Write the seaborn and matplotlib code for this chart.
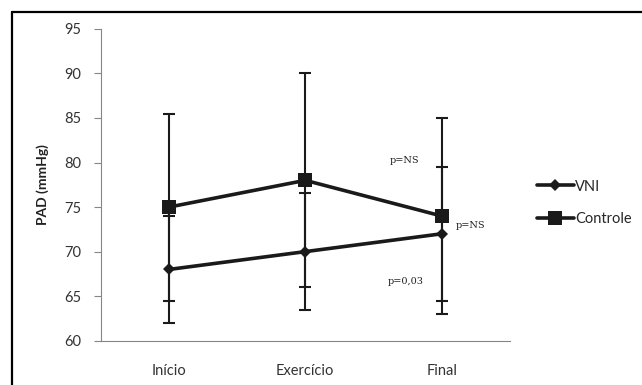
import matplotlib
matplotlib.use("Agg")
import matplotlib.pyplot as plt
import seaborn as sns
import pandas as pd
from matplotlib.lines import Line2D

categories = ["Início", "Exercício", "Final"]
vni_mean = [68, 70, 72]
vni_sd = [6, 6.6, 7.5]
ctrl_mean = [75, 78, 74]
ctrl_sd = [10.5, 12, 11]
series_names = ["VNI", "Controle"]
yticks = [60, 65, 70, 75, 80, 85, 90, 95]
annotations = [("p=NS", 1.73, 80.2), ("p=NS", 2.21, 72.9), ("p=0,03", 1.74, 66.6)]

sns.set_style("white")
plt.rcParams["font.family"] = ["Lato", "DejaVu Sans"]

df = pd.DataFrame({
    "momento": categories * 2,
    "valor": vni_mean + ctrl_mean,
    "grupo": [series_names[0]] * 3 + [series_names[1]] * 3,
})

fig = plt.figure(figsize=(6.42, 3.85), dpi=100)
ax = fig.add_axes([0.157, 0.115, 0.637, 0.81])

dark = "#1a1a1a"
xpos = list(range(len(categories)))
ax.errorbar(xpos, ctrl_mean, yerr=ctrl_sd, fmt="none", ecolor=dark,
            elinewidth=1.5, capsize=4.5, capthick=1.5, zorder=2)
ax.errorbar(xpos, vni_mean, yerr=vni_sd, fmt="none", ecolor=dark,
            elinewidth=1.5, capsize=4.5, capthick=1.5, zorder=2)

sns.lineplot(data=df, x="momento", y="valor", hue="grupo", style="grupo",
             markers={"VNI": "D", "Controle": "s"}, dashes=False,
             palette={"VNI": dark, "Controle": dark},
             markersize=7, linewidth=2.6, markeredgewidth=0, ax=ax, zorder=3,
             legend=False)
for line in ax.get_lines():
    if line.get_marker() == "s":
        line.set_markersize(10)
    elif line.get_marker() == "D":
        line.set_markersize(6.5)

ax.set_xlim(-0.5, 2.5)
ax.set_ylim(60, 95)
ax.set_yticks(yticks)
ax.set_xticks(xpos)
ax.set_xticklabels(categories)
ax.set_xticks([-0.5, 0.5, 1.5, 2.5], minor=True)
ax.tick_params(axis="x", which="major", length=0, pad=17, labelsize=10.5, labelcolor="#333333")
ax.tick_params(axis="x", which="minor", length=5, width=0.8, color="#868686", direction="out")
ax.tick_params(axis="y", length=5, width=0.8, color="#868686", direction="out",
               pad=9, labelsize=10.5, labelcolor="#333333", left=True)
for s in ["top", "right"]:
    ax.spines[s].set_visible(False)
for s in ["left", "bottom"]:
    ax.spines[s].set_color("#868686")
    ax.spines[s].set_linewidth(0.8)
ax.set_xlabel("")
ax.set_ylabel("PAD (mmHg)", fontsize=10, fontweight="bold", color="#222222", labelpad=11)

for txt, x, y in annotations:
    ax.text(x, y, txt, ha="center", va="center", fontsize=7,
            family=["DejaVu Serif"], color="#222222")

handles = [
    Line2D([], [], color=dark, lw=2.6, marker="D", markersize=6.5, markeredgewidth=0),
    Line2D([], [], color=dark, lw=2.6, marker="s", markersize=10, markeredgewidth=0),
]
fig.legend(handles, series_names, loc="center left",
           bbox_to_anchor=(524 / 642, 1 - 203 / 385), frameon=False,
           fontsize=10.5, handlelength=2.5, handletextpad=0.1, labelspacing=1.3)

fig.add_artist(Line2D([12 / 642, 1.0], [1 - 11.5 / 385, 1 - 11.5 / 385],
                      transform=fig.transFigure, color="black", lw=1.6))
fig.add_artist(Line2D([12 / 642, 12 / 642], [0.0, 1 - 11.5 / 385],
                      transform=fig.transFigure, color="black", lw=1.6))

fig.savefig("out.png", dpi=100)
